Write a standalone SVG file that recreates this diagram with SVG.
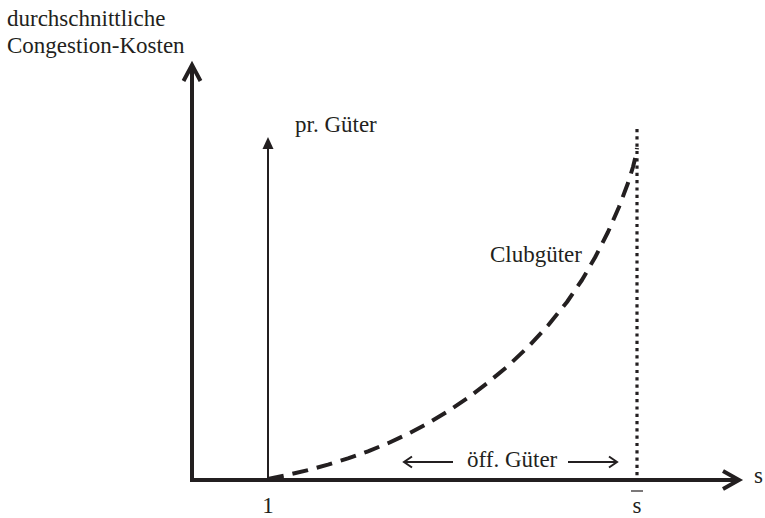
<svg xmlns="http://www.w3.org/2000/svg" width="765" height="518" viewBox="0 0 765 518">
<style>
text{font-family:"Liberation Serif","Times New Roman",serif;font-size:23px;fill:#231f20}
.axis{stroke:#231f20;stroke-width:4;fill:none;stroke-linecap:butt}
.head{stroke:#231f20;stroke-width:4;fill:none;stroke-linejoin:miter}
.thin{stroke:#231f20;stroke-width:2;fill:none}
</style>
<rect width="765" height="518" fill="#fff"/>
<g id="connectors">
<line class="axis" x1="192" y1="481" x2="192" y2="65"/>
<polyline class="head" points="183.5,81 192,65 200.5,81"/>
<line class="axis" x1="190" y1="480" x2="738" y2="480"/>
<polyline class="head" points="723,471 739,480 723,489"/>
<line class="thin" x1="268" y1="480" x2="268" y2="146"/>
<polygon points="268,137 262.5,149 273.5,149" fill="#231f20"/>
<polyline fill="none" stroke="#231f20" stroke-width="4" stroke-dasharray="16 9" stroke-linejoin="round" points="268,479 288,474.8 308,470.1 328,464.6 348,458.4 368,451.3 388,443.2 408,433.9 428,423.3 448,411.3 468,397.8 488,382.5 508,366 528,347 548,325.5 567,302 582,280 595,257.5 608,232 619,207 628,183 633,167 636,155 637,148"/>
<line x1="637" y1="129" x2="637" y2="480" stroke="#231f20" stroke-width="3.2" stroke-dasharray="3.2 4.1"/>
<line class="thin" x1="404" y1="462" x2="453" y2="462"/>
<polyline class="thin" points="412,456.5 404,462 412,467.5"/>
<line class="thin" x1="568" y1="462" x2="617" y2="462"/>
<polyline class="thin" points="609,456.5 617,462 609,467.5"/>
<line x1="631" y1="491" x2="643" y2="491" stroke="#231f20" stroke-width="1.2"/>
</g>
<g id="ylabel">
<text x="7" y="26">durchschnittliche</text>
<text x="7" y="53">Congestion-Kosten</text>
</g>
<g id="pr"><text x="295" y="132">pr. Güter</text></g>
<g id="club"><text x="490" y="262">Clubgüter</text></g>
<g id="off"><text x="467" y="467">öff. Güter</text></g>
<g id="sx"><text x="754" y="483">s</text></g>
<g id="one"><text x="268" y="513" text-anchor="middle">1</text></g>
<g id="sbar"><text x="637" y="513" text-anchor="middle">s</text></g>
</svg>
